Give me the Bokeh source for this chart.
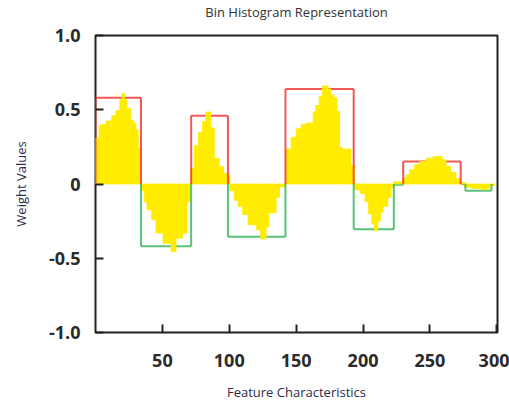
import numpy as np
from bokeh.plotting import figure
from bokeh.models import FixedTicker, Range1d, Title
from bokeh.embed import file_html
from bokeh.resources import INLINE

# ---- data -------------------------------------------------------------
# yellow per-feature weight profile: step edges (feature index) and values
weight_edges = [0, 2.7, 3.7, 7.7, 12.2, 15.2, 18.2, 19.7, 21.7, 23.4, 26.4, 28.2, 30.2, 31.9, 34.2,
                36.5, 38.5, 42, 45.2, 50.5, 56.5, 60.2, 65, 68.5, 71,
                73.8, 77, 80, 82.5, 86.2, 88.8, 92.5, 95.7, 98.2, 100.5,
                103.7, 106.5, 110, 114, 120.5, 123.5, 127.5, 129.5, 135, 137.5, 142,
                146.2, 150, 153.8, 157.5, 162.7, 164.7, 167.2, 169.5, 173.8, 176, 178.2, 180.5, 182.5, 184.5, 191, 193.5,
                198, 201.5, 204, 206.5, 208.5, 211, 213, 215, 218.5, 221, 223,
                229.9, 232.4, 234.9, 238.6, 242.3, 247.3, 252.3, 259.2, 262, 265.5, 269.5, 272.8, 276,
                281, 289.7, 292.2, 294.7, 298.4]
weight_values = [0.31, 0.39, 0.40, 0.425, 0.46, 0.495, 0.567, 0.61, 0.567, 0.51, 0.43, 0.41, 0.365, 0.24,
                 -0.045, -0.12, -0.175, -0.24, -0.33, -0.40, -0.455, -0.365, -0.33, -0.12,
                 0.106, 0.26, 0.345, 0.42, 0.485, 0.378, 0.172, 0.118, 0.073, 0.06,
                 -0.045, -0.11, -0.15, -0.205, -0.275, -0.31, -0.37, -0.29, -0.195, -0.09, -0.02,
                 0.235, 0.315, 0.372, 0.40, 0.41, 0.485, 0.528, 0.59, 0.66, 0.64, 0.60, 0.58, 0.49, 0.245, 0.235, 0.125,
                 -0.04, -0.065, -0.12, -0.2, -0.27, -0.315, -0.25, -0.19, -0.15, -0.09, -0.025,
                 0.015, 0.04, 0.063, 0.097, 0.13, 0.152, 0.174, 0.185, 0.163, 0.12, 0.078, 0.035, 0.01,
                 -0.022, -0.03, -0.04, -0.03, -0.01]

# bin histogram (outline steps): bin edges and bin heights
bin_edges = [0, 34, 71.5, 99, 142, 193, 223, 230, 273, 276.5, 296]
bin_values = [0.58, -0.42, 0.46, -0.355, 0.64, -0.305, -0.005, 0.152, 0.0, -0.045]

x_ticks = [50, 100, 150, 200, 250, 300]
y_ticks = [-1.0, -0.5, 0.0, 0.5, 1.0]
y_tick_labels = ["-1.0", "-0.5", "0", "0.5", "1.0"]

TITLE = "Bin Histogram Representation"
X_LABEL = "Feature Characteristics"
Y_LABEL = "Weight Values"

# ---- figure -----------------------------------------------------------
p = figure(width=509, height=405, output_backend="svg", toolbar_location=None,
           x_range=Range1d(0, 300.5), y_range=Range1d(-1.0, 1.0),
           min_border_left=95, min_border_right=12, min_border_top=35, min_border_bottom=73)
p.background_fill_color = "white"
p.border_fill_color = "white"
p.outline_line_color = "#222222"
p.outline_line_width = 2
p.xgrid.visible = False
p.ygrid.visible = False

p.title.text = TITLE
p.title.align = "center"
p.title.vertical_align = "top"
p.title.text_font = "Open Sans"
p.title.text_font_size = "13px"
p.title.text_font_style = "normal"
p.title.text_color = "#333333"
p.title.offset = 0
p.title.standoff = 4

# blank spacer between the title and the plot frame
p.add_layout(Title(text=" ", text_font_size="8px", standoff=0), "above")

RED = "#ee3b3b"
GREEN = "#3cb862"
YELLOW = "#ffec00"

# bin outline: horizontal tops under the profile, verticals above
tops_x, tops_y, tops_c = [], [], []
vert_x, vert_y, vert_c = [], [], []
for x0, x1, v in zip(bin_edges[:-1], bin_edges[1:], bin_values):
    c = RED if v >= 0 else GREEN
    tops_x.append([x0, x1]); tops_y.append([v, v]); tops_c.append(c)
    vert_x.append([x0, x0]); vert_y.append([0, v]); vert_c.append(c)
    vert_x.append([x1, x1]); vert_y.append([v, 0]); vert_c.append(c)

p.multi_line(tops_x, tops_y, line_color=tops_c, line_width=2, line_alpha=0.85)

wv = np.array(weight_values)
p.quad(left=weight_edges[:-1], right=weight_edges[1:],
       top=np.maximum(wv, 0), bottom=np.minimum(wv, 0),
       fill_color=YELLOW, line_color=YELLOW, line_width=0.8)

p.multi_line(vert_x, vert_y, line_color=vert_c, line_width=2, line_alpha=0.85)

# axes
for ax in (p.xaxis[0], p.yaxis[0]):
    ax.axis_line_color = None
    ax.major_tick_in = 8
    ax.major_tick_out = 0
    ax.minor_tick_line_color = None
    ax.major_tick_line_color = "#222222"
    ax.major_tick_line_width = 2
    ax.major_label_text_font = "Open Sans"
    ax.major_label_text_font_style = "bold"
    ax.major_label_text_font_size = "18px"
    ax.major_label_text_color = "#2b2b2b"
    ax.axis_label_text_font = "Open Sans"
    ax.axis_label_text_font_style = "normal"
    ax.axis_label_text_font_size = "13px"
    ax.axis_label_text_color = "#2c2c48"

p.xaxis.ticker = FixedTicker(ticks=x_ticks)
p.xaxis.major_label_standoff = 21
p.xaxis.axis_label = X_LABEL
p.xaxis.axis_label_standoff = 13

p.yaxis.ticker = FixedTicker(ticks=y_ticks)
p.yaxis.major_label_overrides = {t: s for t, s in zip(y_ticks, y_tick_labels)}
p.yaxis.major_label_standoff = 15
p.yaxis.axis_label = Y_LABEL
p.yaxis.axis_label_standoff = 16

open("out.html", "w").write(file_html(p, INLINE))
